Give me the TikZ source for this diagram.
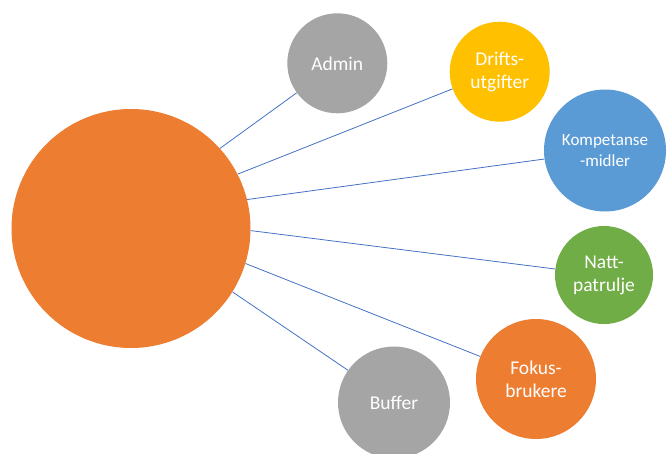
\documentclass[tikz,border=0pt]{standalone}
\usepackage{fontspec}
\setmainfont{Carlito}
\definecolor{corange}{HTML}{ED7D31}
\definecolor{cgray}{HTML}{A5A5A5}
\definecolor{cyellow}{HTML}{FFC000}
\definecolor{cblue}{HTML}{5B9BD5}
\definecolor{cgreen}{HTML}{70AD47}
\definecolor{cline}{HTML}{4472C4}
\tikzset{
  bubble/.style={circle, inner sep=0pt, draw=none, text=white, align=center,
    font=\fontsize{19.5}{23}\selectfont},
  link/.style={draw=cline, line width=0.8pt}
}
\begin{document}
\begin{tikzpicture}[x=1pt,y=-1pt]
\useasboundingbox (0,0) rectangle (667,453);
\clip (0,0) rectangle (667,453);
\node[bubble, fill=corange, minimum size=239pt] (hub) at (131,228.5) {};
\node[bubble, fill=cgray, minimum size=100pt] (admin) at (337.3,63.3) {Admin};
\node[bubble, fill=cyellow, minimum size=100pt] (drift) at (499.7,71.7) {Drifts-\\utgifter};
\node[bubble, fill=cblue, minimum size=122pt, font=\fontsize{17}{21}\selectfont] (komp) at (605,150.5) {Kompetanse\\{}-midler};
\node[bubble, fill=cgreen, minimum size=98pt] (natt) at (604,275) {Natt-\\patrulje};
\node[bubble, fill=corange, minimum size=120pt] (fokus) at (536,379) {Fokus-\\brukere};
\node[bubble, fill=cgray, minimum size=112pt] (buffer) at (394,402.5) {Buffer};
\draw[link] (hub.42.6) -- (admin.216);
\draw[link] (hub.27.9) -- (drift.200.9);
\draw[link] (hub.14) -- (komp.188.8);
\draw[link] (hub.-1.8) -- (natt.173.5);
\draw[link] (hub.-17.2) -- (fokus.158.3);
\draw[link] (hub.-32) -- (buffer.145.5);
\end{tikzpicture}
\end{document}
